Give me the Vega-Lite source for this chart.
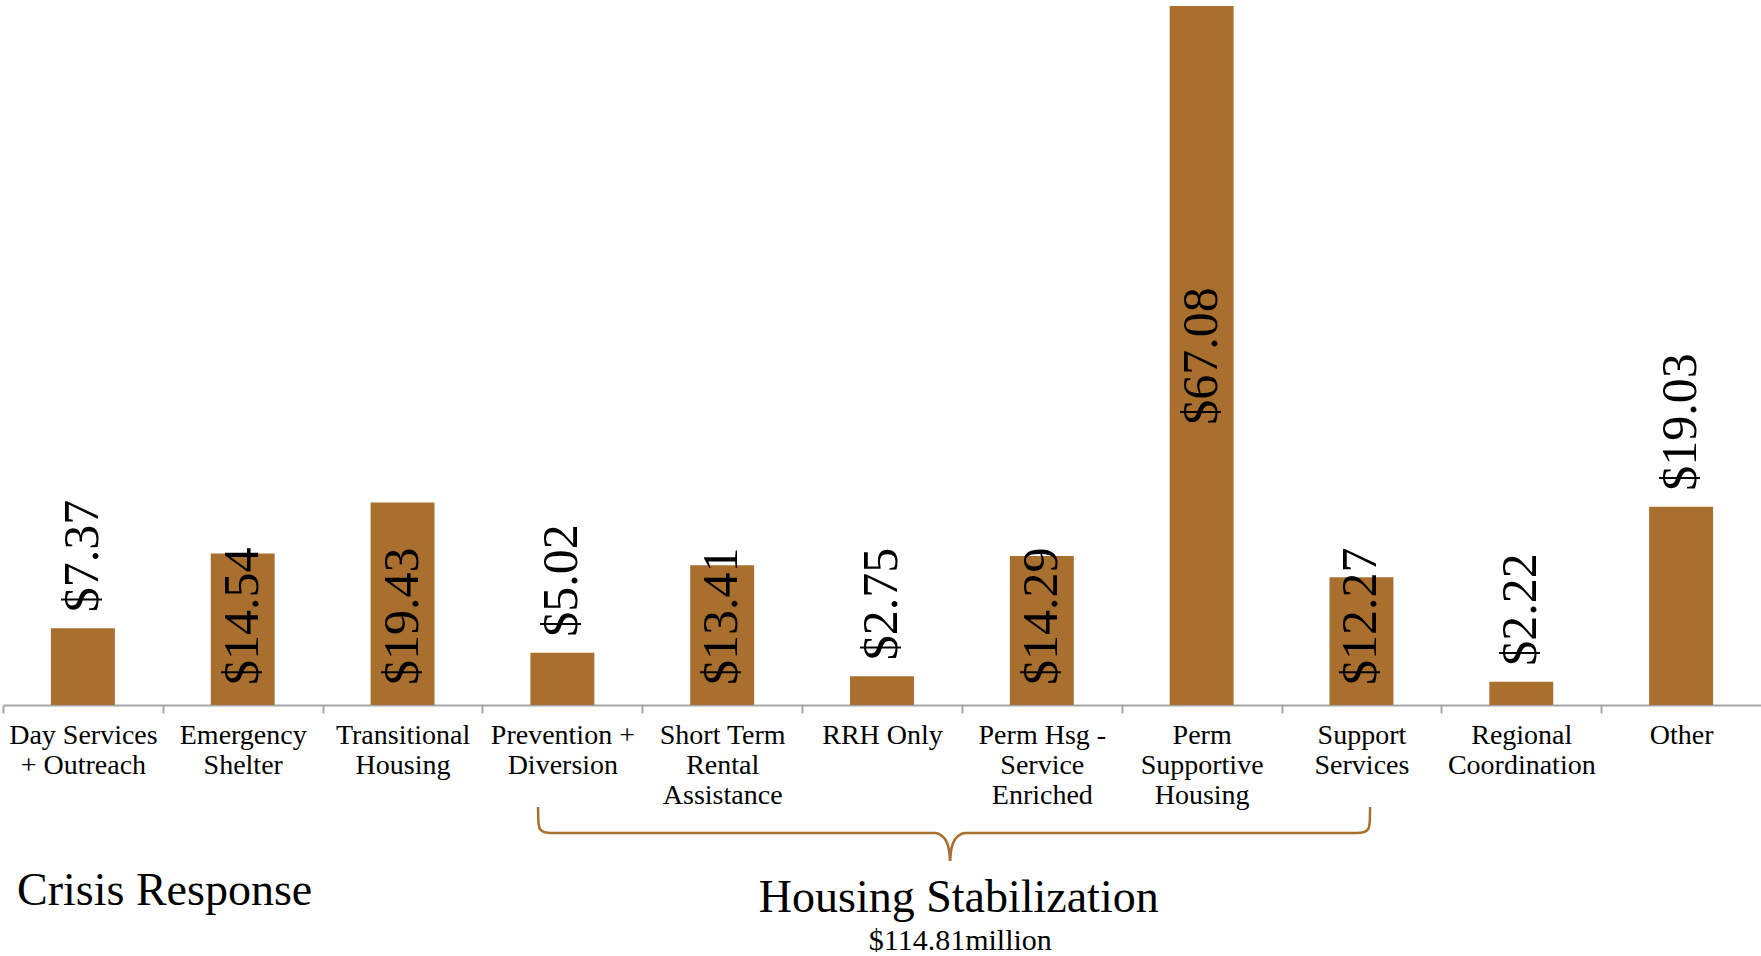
{
  "$schema": "https://vega.github.io/schema/vega-lite/v6.json",
  "width": 1758,
  "height": 699,
  "autosize": {"type": "none"},
  "padding": {"left": 3, "top": 6, "right": 0, "bottom": 251},
  "background": "white",
  "config": {"view": {"stroke": null}, "font": "Liberation Serif"},
  "datasets": {
    "spending": [
      {"category": "Day Services + Outreach", "value": 7.37},
      {"category": "Emergency Shelter", "value": 14.54},
      {"category": "Transitional Housing", "value": 19.43},
      {"category": "Prevention + Diversion", "value": 5.02},
      {"category": "Short Term Rental Assistance", "value": 13.41},
      {"category": "RRH Only", "value": 2.75},
      {"category": "Perm Hsg - Service Enriched", "value": 14.29},
      {"category": "Perm Supportive Housing", "value": 67.08},
      {"category": "Support Services", "value": 12.27},
      {"category": "Regional Coordination", "value": 2.22},
      {"category": "Other", "value": 19.03}
    ],
    "brace": [
      {"bx": 3.348, "by": -9.79, "half": "L"},
      {"bx": 3.350, "by": -11.23, "half": "L"},
      {"bx": 3.360, "by": -11.90, "half": "L"},
      {"bx": 3.385, "by": -12.19, "half": "L"},
      {"bx": 3.429, "by": -12.28, "half": "L"},
      {"bx": 5.832, "by": -12.28, "half": "L"},
      {"bx": 5.876, "by": -12.57, "half": "L"},
      {"bx": 5.907, "by": -13.24, "half": "L"},
      {"bx": 5.920, "by": -14.01, "half": "L"},
      {"bx": 5.926, "by": -14.97, "half": "L"},
      {"bx": 5.926, "by": -14.97, "half": "R"},
      {"bx": 5.932, "by": -14.01, "half": "R"},
      {"bx": 5.945, "by": -13.24, "half": "R"},
      {"bx": 5.976, "by": -12.57, "half": "R"},
      {"bx": 6.020, "by": -12.28, "half": "R"},
      {"bx": 8.473, "by": -12.28, "half": "R"},
      {"bx": 8.517, "by": -12.19, "half": "R"},
      {"bx": 8.542, "by": -11.90, "half": "R"},
      {"bx": 8.552, "by": -11.23, "half": "R"},
      {"bx": 8.554, "by": -9.79, "half": "R"}
    ]
  },
  "layer": [
    {
      "data": {"name": "spending"},
      "encoding": {
        "x": {
          "field": "category",
          "type": "nominal",
          "sort": null,
          "scale": {
            "domain": ["Day Services + Outreach", "Emergency Shelter", "Transitional Housing", "Prevention + Diversion", "Short Term Rental Assistance", "RRH Only", "Perm Hsg - Service Enriched", "Perm Supportive Housing", "Support Services", "Regional Coordination", "Other"],
            "paddingInner": 0.6,
            "paddingOuter": 0.3
          },
          "axis": {
            "title": null,
            "labelAngle": 0,
            "labelFont": "Liberation Serif",
            "labelFontSize": 28,
            "labelColor": "#000000",
            "labelLineHeight": 30,
            "labelPadding": 8,
            "labelBaseline": "top",
            "labelOverlap": false,
            "labelLimit": 400,
            "labelBound": false,
            "tickOffset": -79.9,
            "labelOffset": 79.9,
            "tickSize": 8,
            "tickWidth": 2,
            "tickColor": "#a6a6a6",
            "domainColor": "#a6a6a6",
            "domainWidth": 2,
            "grid": false,
            "labelExpr": "datum.label == 'Day Services + Outreach' ? ['Day Services', '+ Outreach'] : datum.label == 'Emergency Shelter' ? ['Emergency', 'Shelter'] : datum.label == 'Transitional Housing' ? ['Transitional', 'Housing'] : datum.label == 'Prevention + Diversion' ? ['Prevention +', 'Diversion'] : datum.label == 'Short Term Rental Assistance' ? ['Short Term', 'Rental', 'Assistance'] : datum.label == 'Perm Hsg - Service Enriched' ? ['Perm Hsg -', 'Service', 'Enriched'] : datum.label == 'Perm Supportive Housing' ? ['Perm', 'Supportive', 'Housing'] : datum.label == 'Support Services' ? ['Support', 'Services'] : datum.label == 'Regional Coordination' ? ['Regional', 'Coordination'] : datum.label"
          }
        },
        "y": {
          "field": "value",
          "type": "quantitative",
          "scale": {"domain": [0, 67.08], "nice": false, "zero": true},
          "axis": null
        }
      },
      "layer": [
        {"mark": {"type": "bar", "color": "#a86f2e"}},
        {
          "transform": [{"filter": {"field": "category", "oneOf": ["Day Services + Outreach", "Prevention + Diversion", "RRH Only", "Regional Coordination", "Other"]}}],
          "mark": {"type": "text", "angle": 270, "align": "left", "baseline": "middle", "dx": 16, "fontSize": 50, "font": "Liberation Serif", "color": "#000000"},
          "encoding": {"text": {"field": "value", "type": "quantitative", "format": "$.2f"}}
        },
        {
          "transform": [{"filter": {"field": "category", "oneOf": ["Emergency Shelter", "Transitional Housing", "Short Term Rental Assistance", "Perm Hsg - Service Enriched", "Support Services"]}}],
          "mark": {"type": "text", "angle": 270, "align": "left", "baseline": "middle", "dx": 20, "fontSize": 50, "font": "Liberation Serif", "color": "#000000"},
          "encoding": {"y": {"datum": 0, "type": "quantitative", "scale": {"domain": [0, 67.08], "nice": false, "zero": true}}, "text": {"field": "value", "type": "quantitative", "format": "$.2f"}}
        },
        {
          "transform": [{"filter": {"field": "category", "equal": "Perm Supportive Housing"}}],
          "mark": {"type": "text", "angle": 270, "align": "center", "baseline": "middle", "dx": -350, "fontSize": 50, "font": "Liberation Serif", "color": "#000000"},
          "encoding": {"text": {"field": "value", "type": "quantitative", "format": "$.2f"}}
        }
      ]
    },
    {
      "layer": [
        {
          "data": {"name": "brace"},
          "mark": {"type": "line", "interpolate": "monotone", "color": "#a86f2e", "strokeWidth": 2.5},
          "encoding": {
            "x": {"field": "bx", "type": "quantitative", "scale": {"domain": [0, 11], "nice": false, "zero": false}, "axis": null},
            "y": {"field": "by", "type": "quantitative", "scale": {"domain": [0, 67.08], "nice": false, "zero": true}, "axis": null},
            "detail": {"field": "half", "type": "nominal"}
          }
        },
        {
          "data": {"values": [{"label": "Crisis Response"}]},
          "mark": {"type": "text", "align": "left", "baseline": "middle", "fontSize": 46, "font": "Liberation Serif", "color": "#000000"},
          "encoding": {
            "x": {"datum": 0.088, "type": "quantitative", "scale": {"domain": [0, 11], "nice": false, "zero": false}, "axis": null},
            "y": {"datum": -17.85, "type": "quantitative", "scale": {"domain": [0, 67.08], "nice": false, "zero": true}, "axis": null},
            "text": {"field": "label"}
          }
        },
        {
          "data": {"values": [{"label": "Housing Stabilization"}]},
          "mark": {"type": "text", "align": "center", "baseline": "middle", "fontSize": 46, "font": "Liberation Serif", "color": "#000000"},
          "encoding": {
            "x": {"datum": 5.98, "type": "quantitative", "scale": {"domain": [0, 11], "nice": false, "zero": false}, "axis": null},
            "y": {"datum": -18.5, "type": "quantitative", "scale": {"domain": [0, 67.08], "nice": false, "zero": true}, "axis": null},
            "text": {"field": "label"}
          }
        },
        {
          "data": {"values": [{"label": "$114.81million"}]},
          "mark": {"type": "text", "align": "center", "baseline": "middle", "fontSize": 30, "font": "Liberation Serif", "color": "#000000"},
          "encoding": {
            "x": {"datum": 5.99, "type": "quantitative", "scale": {"domain": [0, 11], "nice": false, "zero": false}, "axis": null},
            "y": {"datum": -22.65, "type": "quantitative", "scale": {"domain": [0, 67.08], "nice": false, "zero": true}, "axis": null},
            "text": {"field": "label"}
          }
        }
      ]
    }
  ],
  "resolve": {"scale": {"x": "independent"}}
}
